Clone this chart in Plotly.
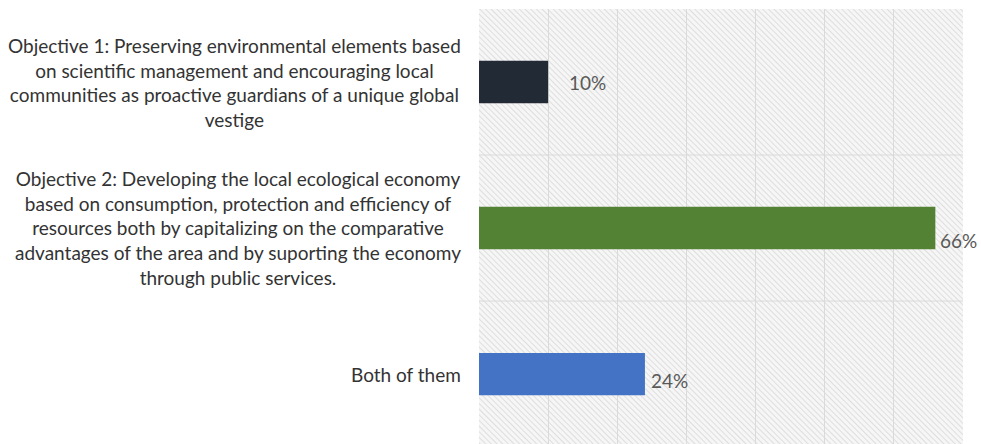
import base64
import plotly.graph_objects as go

# Survey answers: which objective respondents favoured
categories = [
    "Objective 1: Preserving environmental elements based<br>"
    "on scientific management and encouraging local<br>"
    "communities as proactive guardians of a unique global<br>"
    "vestige",
    "Objective 2: Developing the local ecological economy<br>"
    "based on consumption, protection and efficiency of<br>"
    "resources both by capitalizing on the comparative<br>"
    "advantages of the area and by suporting the economy<br>"
    "through public services.",
    "Both of them",
]
shares = [0.10, 0.66, 0.24]
value_labels = ["10%", "66%", "24%"]

bar_colors = ["#222a35", "#548235", "#4472c4"]
label_xshift = [19, 3, 4]
label_yshift = [0, -12, -6]

FONT = "Lato"

# Diagonal hatch used as the plot-area background
hatch_svg = (
    "<svg xmlns='http://www.w3.org/2000/svg' width='484' height='436'>"
    "<defs><pattern id='h' width='4' height='4' patternUnits='userSpaceOnUse' "
    "patternTransform='rotate(-45)'>"
    "<rect width='4' height='4' fill='#f6f6f6'/>"
    "<line x1='0' y1='0' x2='0' y2='4' stroke='#d8d8d8' stroke-width='1.6'/>"
    "</pattern></defs>"
    "<rect width='100%' height='100%' fill='url(#h)'/></svg>"
)
hatch_uri = "data:image/svg+xml;base64," + base64.b64encode(hatch_svg.encode()).decode()

fig = go.Figure(
    go.Bar(
        x=shares,
        y=categories,
        orientation="h",
        marker=dict(color=bar_colors, line=dict(width=0)),
        width=0.29,
        hoverinfo="skip",
    )
)

annotations = []
for cat in categories:
    annotations.append(
        dict(
            x=0, xref="paper", y=cat, yref="y",
            text=cat, showarrow=False,
            xanchor="right", yanchor="middle", align="center",
            xshift=-16,
            font=dict(family=FONT, size=19, color="#333333"),
        )
    )
for cat, val, txt, dx, dy in zip(categories, shares, value_labels, label_xshift, label_yshift):
    annotations.append(
        dict(
            x=val, xref="x", y=cat, yref="y",
            text=txt, showarrow=False,
            xanchor="left", yanchor="middle",
            xshift=dx, yshift=dy,
            font=dict(family=FONT, size=19, color="#595959"),
        )
    )

shapes = [
    dict(type="line", xref="paper", x0=0, x1=1, yref="y", y0=b, y1=b,
         line=dict(color="#dadada", width=1), layer="below")
    for b in (0.5, 1.5)
]

fig.update_layout(
    width=981,
    height=444,
    margin=dict(l=479, r=18, t=9, b=0),
    paper_bgcolor="white",
    plot_bgcolor="rgba(0,0,0,0)",
    showlegend=False,
    annotations=annotations,
    shapes=shapes,
    images=[
        dict(
            source=hatch_uri, xref="paper", yref="paper",
            x=0, y=1, sizex=1, sizey=1, sizing="stretch",
            xanchor="left", yanchor="top", layer="below",
        )
    ],
    xaxis=dict(
        range=[0, 0.7], dtick=0.1, showgrid=True, gridcolor="#dadada",
        gridwidth=1, zeroline=False, showticklabels=False, showline=False,
        fixedrange=True,
    ),
    yaxis=dict(
        range=[2.479, -0.5], showticklabels=False, showgrid=False,
        zeroline=False, showline=False, fixedrange=True,
    ),
)

fig.write_html("out.html")
